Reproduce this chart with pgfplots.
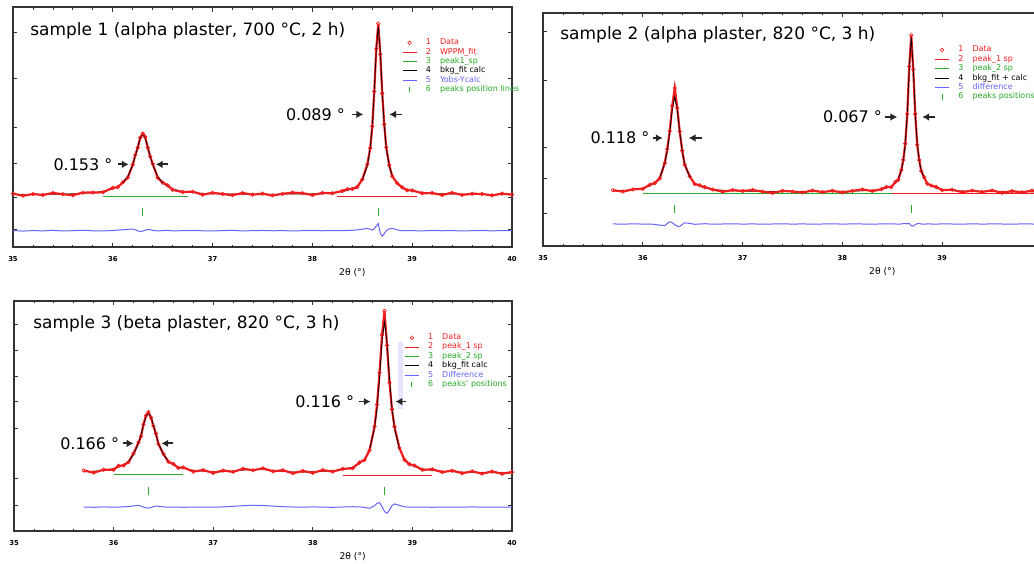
\documentclass[border=0pt]{standalone}
\usepackage{pgfplots}
\pgfplotsset{compat=1.18}
\usepackage{pgfplotstable}
\usepackage{fontspec}
\setmainfont{DejaVu Sans}
\usetikzlibrary{arrows.meta}
\definecolor{obsred}{RGB}{240,30,30}
\definecolor{fitgreen}{RGB}{40,170,40}
\definecolor{diffblue}{RGB}{100,100,250}

\pgfplotstableread{
x calc obs diff
35.0 51.4 52.3 16.2
35.1 51.4 50.3 15.6
35.2 51.5 51.9 16.1
35.3 51.6 51.0 15.8
35.4 51.7 53.0 16.3
35.5 51.9 51.7 15.7
35.6 52.2 50.8 16.0
35.7 52.6 53.3 16.4
35.8 53.3 53.4 15.9
35.9 54.5 53.6 15.8
36.0 56.9 58.0 16.1
36.05 59.1 58.6 16.6
36.1 62.8 63.4 16.9
36.15 69.2 68.0 17.3
36.2 80.5 80.8 17.6
36.225 88.8 90.2 16.8
36.25 98.2 97.4 15.9
36.275 106.5 107.2 15.2
36.3 110.0 111.2 15.6
36.325 106.5 107.9 16.4
36.35 98.2 97.4 17.2
36.375 88.8 88.7 17.0
36.4 80.5 81.5 16.3
36.45 69.2 67.9 15.7
36.5 62.8 63.1 16.1
36.55 59.1 60.5 16.3
36.6 56.9 56.1 15.8
36.7 54.5 53.8 16.0
36.8 53.3 54.3 16.2
36.9 52.6 51.3 15.9
37.0 52.2 53.1 15.7
37.1 51.9 52.0 16.1
37.2 51.9 50.8 16.3
37.3 51.8 52.9 15.8
37.4 51.8 51.3 16.0
37.5 51.7 52.3 16.2
37.6 51.7 50.5 15.9
37.7 51.8 52.1 16.1
37.8 51.9 53.3 15.7
37.9 52.0 52.8 16.0
38.0 52.1 51.0 16.2
38.1 52.5 52.9 15.9
38.2 53.1 52.7 16.1
38.3 54.3 54.9 16.0
38.35 55.4 56.7 16.2
38.4 57.1 56.9 16.4
38.45 60.1 58.7 16.8
38.5 65.9 66.2 17.5
38.55 79.5 80.9 18.2
38.58 97.5 97.0 17.4
38.6 118.8 118.2 16.6
38.62 151.8 152.5 18.0
38.64 193.4 194.4 20.5
38.66 216.2 219.0 23.0
38.68 193.4 189.0 13.5
38.70 151.8 150.7 10.5
38.72 118.8 120.3 13.0
38.74 97.5 97.8 16.0
38.77 79.5 80.2 17.8
38.8 69.9 69.4 18.2
38.85 61.9 62.5 16.8
38.9 58.1 58.4 15.9
38.95 56.0 55.6 16.1
39.0 54.7 55.5 16.0
39.1 53.3 52.7 15.8
39.2 52.6 52.9 16.2
39.3 52.2 51.0 15.9
39.4 51.9 53.2 16.1
39.5 51.7 51.1 15.7
39.6 51.6 52.2 16.0
39.7 51.5 52.0 16.2
39.8 51.4 50.6 15.8
39.9 51.4 52.3 16.1
40.0 51.3 51.4 16.0
}\tabA

\pgfplotstableread{
x calc obs diff
35.7 55.0 55.8 22.1
35.8 55.5 54.4 21.8
35.9 56.2 56.6 22.2
36.0 57.8 57.2 21.9
36.07 60.0 61.3 22.0
36.12 63.1 62.9 21.6
36.17 69.0 67.6 20.8
36.22 82.2 82.9 20.4
36.245 94.8 96.9 22.5
36.27 113.7 115.0 24.2
36.295 136.7 140.1 23.4
36.32 149.0 158.0 21.2
36.345 136.7 138.2 19.8
36.37 113.7 114.5 19.6
36.395 94.8 95.4 21.5
36.42 82.2 81.2 23.2
36.47 69.0 69.7 22.6
36.52 63.1 62.0 21.7
36.57 60.0 60.6 22.0
36.62 57.8 58.9 22.3
36.7 56.7 56.5 21.8
36.8 55.7 54.3 22.0
36.9 55.2 55.9 22.2
37.0 54.9 55.0 21.9
37.1 54.7 56.0 22.1
37.2 54.6 54.4 21.8
37.3 54.5 53.1 22.0
37.4 54.4 55.1 22.2
37.5 54.4 54.5 21.9
37.6 54.4 53.5 22.1
37.7 54.4 55.5 21.8
37.8 54.4 53.9 22.0
37.9 54.6 55.2 22.2
38.0 54.7 53.5 21.9
38.1 54.8 55.1 22.1
38.2 55.2 56.6 22.0
38.3 55.7 54.9 21.8
38.39 56.8 56.7 22.1
38.44 58.0 59.0 22.0
38.49 60.1 58.8 22.2
38.53 63.1 64.0 22.0
38.56 67.4 66.2 21.8
38.59 75.4 75.8 22.1
38.61 85.0 86.1 22.3
38.63 101.7 102.4 22.4
38.65 131.5 132.0 22.2
38.67 178.0 179.5 22.6
38.69 209.0 211.0 20.4
38.71 178.0 176.5 19.8
38.73 131.5 131.8 21.4
38.75 101.7 101.2 22.3
38.77 85.0 85.9 22.5
38.79 75.4 74.9 22.0
38.82 67.4 68.7 21.8
38.85 63.1 62.3 22.1
38.89 60.1 60.5 22.0
38.94 57.9 59.1 21.9
39.0 56.6 55.8 22.1
39.1 55.5 56.3 22.0
39.2 55.0 53.8 21.8
39.3 54.7 55.4 22.2
39.4 54.5 54.1 21.9
39.5 54.4 55.6 22.1
39.6 54.3 53.2 22.0
39.7 54.2 54.9 21.8
39.8 54.2 53.7 22.1
39.9 54.2 55.3 22.0
40.0 54.1 54.0 21.9
}\tabB

\pgfplotstableread{
x calc obs diff
35.7 59.5 60.8 24.1
35.8 60.0 58.6 23.8
35.9 60.9 61.6 24.2
36.0 62.7 61.5 23.9
36.05 64.1 65.5 24.0
36.1 66.4 65.8 24.3
36.15 70.1 69.2 24.6
36.2 76.6 77.9 25.2
36.25 88.2 89.0 25.8
36.275 96.6 95.1 25.0
36.3 106.2 107.0 24.1
36.325 114.7 115.8 23.2
36.35 118.2 119.5 23.0
36.375 114.7 113.9 23.6
36.4 106.2 105.5 24.5
36.425 96.6 97.8 25.1
36.45 88.2 87.3 24.8
36.5 76.6 77.5 24.2
36.55 70.1 69.5 23.9
36.6 66.4 67.3 24.1
36.65 64.1 63.4 24.0
36.7 62.8 63.9 23.8
36.8 61.0 59.7 24.1
36.9 60.1 61.2 24.0
37.0 59.6 58.3 23.9
37.1 59.6 60.8 24.2
37.2 60.1 59.4 24.8
37.3 61.2 62.5 25.4
37.4 61.9 61.0 25.9
37.5 61.7 63.0 25.6
37.6 60.7 59.9 25.0
37.7 59.8 61.0 24.4
37.8 59.3 58.0 24.1
37.9 59.2 60.3 23.9
38.0 59.5 58.4 24.2
38.1 59.9 61.2 24.0
38.2 60.5 59.6 23.8
38.3 61.7 62.4 24.1
38.4 64.2 63.0 24.4
38.47 67.7 68.9 24.2
38.52 72.6 71.4 23.6
38.57 82.1 81.0 22.8
38.62 103.2 104.9 25.4
38.645 123.3 127.0 27.8
38.67 153.6 158.8 28.6
38.695 190.5 197.0 24.5
38.72 210.1 221.0 19.5
38.745 190.5 186.5 17.8
38.77 153.6 149.0 21.0
38.795 123.3 122.1 25.5
38.82 103.2 104.8 27.2
38.87 82.1 83.4 25.8
38.92 72.6 71.5 24.3
38.97 67.7 67.0 23.9
39.02 64.9 65.8 24.1
39.1 62.4 61.4 24.0
39.2 60.8 62.0 23.8
39.3 60.0 59.1 24.1
39.4 59.5 60.7 24.0
39.5 59.1 58.0 23.9
39.6 58.9 59.9 24.2
39.7 58.7 57.6 23.9
39.8 58.6 59.8 24.1
39.9 58.5 57.5 24.0
40.0 58.4 59.2 23.9
}\tabC

\tikzset{
  ptitle/.style={anchor=west, inner sep=0pt, font=\fontsize{8.5}{10}\selectfont},
  fwhm/.style={anchor=east, inner sep=0pt, font=\fontsize{8}{9}\selectfont},
  arr/.style={-{Latex[length=3.4pt,width=3.8pt]}, line width=0.9pt, black!85},
}
\pgfplotsset{
  panel/.style={
    scale only axis, width=249.5pt,
    xmin=35, xmax=40, ymin=0,
    xtick={35,...,40}, minor x tick num=4,
    yticklabels={}, minor y tick num=3,
    tick align=inside,
    major tick length=2.2pt, minor tick length=1.1pt,
    axis line style={line width=0.9pt, black!80},
    every tick/.style={black!80, line width=0.4pt},
    /pgf/number format/assume math mode=true,
    xticklabel style={font=\fontsize{3.4}{4}\selectfont\bfseries, yshift=-1.2pt},
    xlabel={2θ (°)},
    xlabel style={font=\fontsize{4.6}{5.5}\selectfont, at={(axis description cs:0.68,0)}, anchor=north, yshift=-7.2pt},
    legend style={draw=none, fill=none, anchor=north west,
      font=\fontsize{4}{4.5}\selectfont, row sep=0pt,
      nodes={inner sep=0.4pt, text height=2.9pt, text depth=1pt}},
    legend cell align=left,
  },
  lgobs/.style={legend image code/.code={\draw[obsred,line width=0.3pt] (3.5pt,0pt) circle (0.9pt);}},
  lgline/.style={legend image code/.code={\draw[#1,line width=0.5pt] (0pt,0pt) -- (7pt,0pt);}},
  lgtick/.style={legend image code/.code={\draw[fitgreen,line width=0.4pt] (3.5pt,-1.3pt) -- (3.5pt,1.3pt);}},
}
\newcommand{\lgent}[3]{\textcolor{#1}{\hspace*{4pt}#2\hspace{4.5pt}#3}}

\begin{document}
\begin{tikzpicture}
% ---------------- panel 1
\begin{axis}[panel, at={(6.5pt,158pt)}, anchor=south west, height=117.5pt,
  ymax=235, ytick={17,49,82,117,165,210},
  legend style={at={(axis description cs:0.767,0.89)}}]
\addplot[fitgreen, line width=0.4pt, forget plot] coordinates {(35.9,50) (36.75,50)};
\addplot[obsred, line width=0.4pt, forget plot] coordinates {(38.25,50) (39.05,50)};
\addplot[black, line width=0.35pt, forget plot] table[x=x,y=calc] {\tabA};
\addplot[obsred, line width=1.1pt, forget plot] table[x=x,y=obs] {\tabA};
\addplot[black, line width=0.35pt, forget plot, restrict x to domain=36.1:36.5] table[x=x,y=calc] {\tabA};
\addplot[black, line width=0.35pt, forget plot, restrict x to domain=38.5:38.8] table[x=x,y=calc] {\tabA};
\addplot[diffblue, line width=0.5pt, forget plot] table[x=x,y=diff] {\tabA};
\addplot[fitgreen, only marks, mark=|, mark size=2pt, mark options={line width=0.4pt}, forget plot] coordinates {(36.3,34) (38.66,34)};
\addplot[obsred, only marks, mark=o, mark size=0.9pt, mark options={line width=0.3pt}, forget plot] table[x=x,y=obs] {\tabA};
\addlegendimage{lgobs}\addlegendentry{\lgent{obsred}{1}{Data}}
\addlegendimage{lgline=obsred}\addlegendentry{\lgent{obsred}{2}{WPPM\_fit}}
\addlegendimage{lgline=fitgreen}\addlegendentry{\lgent{fitgreen}{3}{peak1\_sp}}
\addlegendimage{lgline=black}\addlegendentry{\lgent{black}{4}{bkg\_fit calc}}
\addlegendimage{lgline=diffblue}\addlegendentry{\lgent{diffblue}{5}{Yobs-Ycalc}}
\addlegendimage{lgtick}\addlegendentry{\lgent{fitgreen}{6}{peaks position lines}}
\node[ptitle] at (axis description cs:0.034,0.90) {sample 1 (alpha plaster, 700 °C, 2 h)};
\node[fwhm] at (axis cs:36.0,81) {0.153 °};
\draw[arr] (axis cs:36.05,81) -- (axis cs:36.16,81);
\draw[arr] (axis cs:36.55,81) -- (axis cs:36.43,81);
\node[fwhm] at (axis cs:38.33,130) {0.089 °};
\draw[arr] (axis cs:38.40,130) -- (axis cs:38.51,130);
\draw[arr] (axis cs:38.90,130) -- (axis cs:38.77,130);
\end{axis}
% ---------------- panel 2
\begin{axis}[panel, at={(271.5pt,158.5pt)}, anchor=south west, height=116.5pt,
  ymax=233, ytick={33,68,99,166,215}, xtick={35,...,39},
  legend style={at={(axis description cs:0.772,0.88)}}]
\addplot[fitgreen, line width=0.4pt, forget plot] coordinates {(36.0,52.5) (38.5,52.5)};
\addplot[obsred, line width=0.4pt, forget plot] coordinates {(38.5,52.5) (40,52.5)};
\addplot[black, line width=0.35pt, forget plot] table[x=x,y=calc] {\tabB};
\addplot[obsred, line width=1.1pt, forget plot] table[x=x,y=obs] {\tabB};
\addplot[black, line width=0.35pt, forget plot, restrict x to domain=36.15:36.5] table[x=x,y=calc] {\tabB};
\addplot[black, line width=0.35pt, forget plot, restrict x to domain=38.55:38.83] table[x=x,y=calc] {\tabB};
\addplot[diffblue, line width=0.5pt, forget plot] table[x=x,y=diff] {\tabB};
\addplot[fitgreen, only marks, mark=|, mark size=2pt, mark options={line width=0.4pt}, forget plot] coordinates {(36.32,37) (38.69,37)};
\addplot[obsred, only marks, mark=o, mark size=0.9pt, mark options={line width=0.3pt}, forget plot] table[x=x,y=obs] {\tabB};
\addlegendimage{lgobs}\addlegendentry{\lgent{obsred}{1}{Data}}
\addlegendimage{lgline=obsred}\addlegendentry{\lgent{obsred}{2}{peak\_1 sp}}
\addlegendimage{lgline=fitgreen}\addlegendentry{\lgent{fitgreen}{3}{peak\_2 sp}}
\addlegendimage{lgline=black}\addlegendentry{\lgent{black}{4}{bkg\_fit + calc}}
\addlegendimage{lgline=diffblue}\addlegendentry{\lgent{diffblue}{5}{difference}}
\addlegendimage{lgtick}\addlegendentry{\lgent{fitgreen}{6}{peaks positions}}
\node[ptitle] at (axis description cs:0.034,0.906) {sample 2 (alpha plaster, 820 °C, 3 h)};
\node[fwhm] at (axis cs:36.07,108) {0.118 °};
\draw[arr] (axis cs:36.10,108) -- (axis cs:36.20,108);
\draw[arr] (axis cs:36.59,108) -- (axis cs:36.46,108);
\node[fwhm] at (axis cs:38.40,129) {0.067 °};
\draw[arr] (axis cs:38.43,129) -- (axis cs:38.55,129);
\draw[arr] (axis cs:38.93,129) -- (axis cs:38.80,129);
\end{axis}
% ---------------- panel 3
\begin{axis}[panel, at={(7pt,16pt)}, anchor=south west, width=249pt, height=115pt,
  ymax=231, ytick={26,53,103,130,155,181,208},
  legend style={at={(axis description cs:0.771,0.88)}}]
\fill[blue!10] (axis cs:38.855,123) rectangle (axis cs:38.905,190);
\addplot[fitgreen, line width=0.4pt, forget plot] coordinates {(36.0,56.5) (36.7,56.5)};
\addplot[obsred, line width=0.4pt, forget plot] coordinates {(38.3,56) (39.2,56)};
\addplot[black, line width=0.35pt, forget plot] table[x=x,y=calc] {\tabC};
\addplot[obsred, line width=1.1pt, forget plot] table[x=x,y=obs] {\tabC};
\addplot[black, line width=0.35pt, forget plot, restrict x to domain=36.15:36.55] table[x=x,y=calc] {\tabC};
\addplot[black, line width=0.35pt, forget plot, restrict x to domain=38.55:38.9] table[x=x,y=calc] {\tabC};
\addplot[diffblue, line width=0.5pt, forget plot] table[x=x,y=diff] {\tabC};
\addplot[fitgreen, only marks, mark=|, mark size=2pt, mark options={line width=0.4pt}, forget plot] coordinates {(36.35,40) (38.72,40)};
\addplot[obsred, only marks, mark=o, mark size=0.9pt, mark options={line width=0.3pt}, forget plot] table[x=x,y=obs] {\tabC};
\addlegendimage{lgobs}\addlegendentry{\lgent{obsred}{1}{Data}}
\addlegendimage{lgline=obsred}\addlegendentry{\lgent{obsred}{2}{peak\_1 sp}}
\addlegendimage{lgline=fitgreen}\addlegendentry{\lgent{fitgreen}{3}{peak\_2 sp}}
\addlegendimage{lgline=black}\addlegendentry{\lgent{black}{4}{bkg\_fit calc}}
\addlegendimage{lgline=diffblue}\addlegendentry{\lgent{diffblue}{5}{Difference}}
\addlegendimage{lgtick}\addlegendentry{\lgent{fitgreen}{6}{peaks' positions}}
\node[ptitle] at (axis description cs:0.038,0.90) {sample 3 (beta plaster, 820 °C, 3 h)};
\node[fwhm] at (axis cs:36.06,88) {0.166 °};
\draw[arr] (axis cs:36.09,88) -- (axis cs:36.20,88);
\draw[arr] (axis cs:36.60,88) -- (axis cs:36.48,88);
\node[fwhm] at (axis cs:38.42,130) {0.116 °};
\draw[arr] (axis cs:38.46,130) -- (axis cs:38.58,130);
\draw[arr] (axis cs:38.94,130) -- (axis cs:38.83,130);
\end{axis}
\pgfresetboundingbox
\useasboundingbox (0,0) rectangle (517pt,281.5pt);
\end{tikzpicture}
\end{document}
